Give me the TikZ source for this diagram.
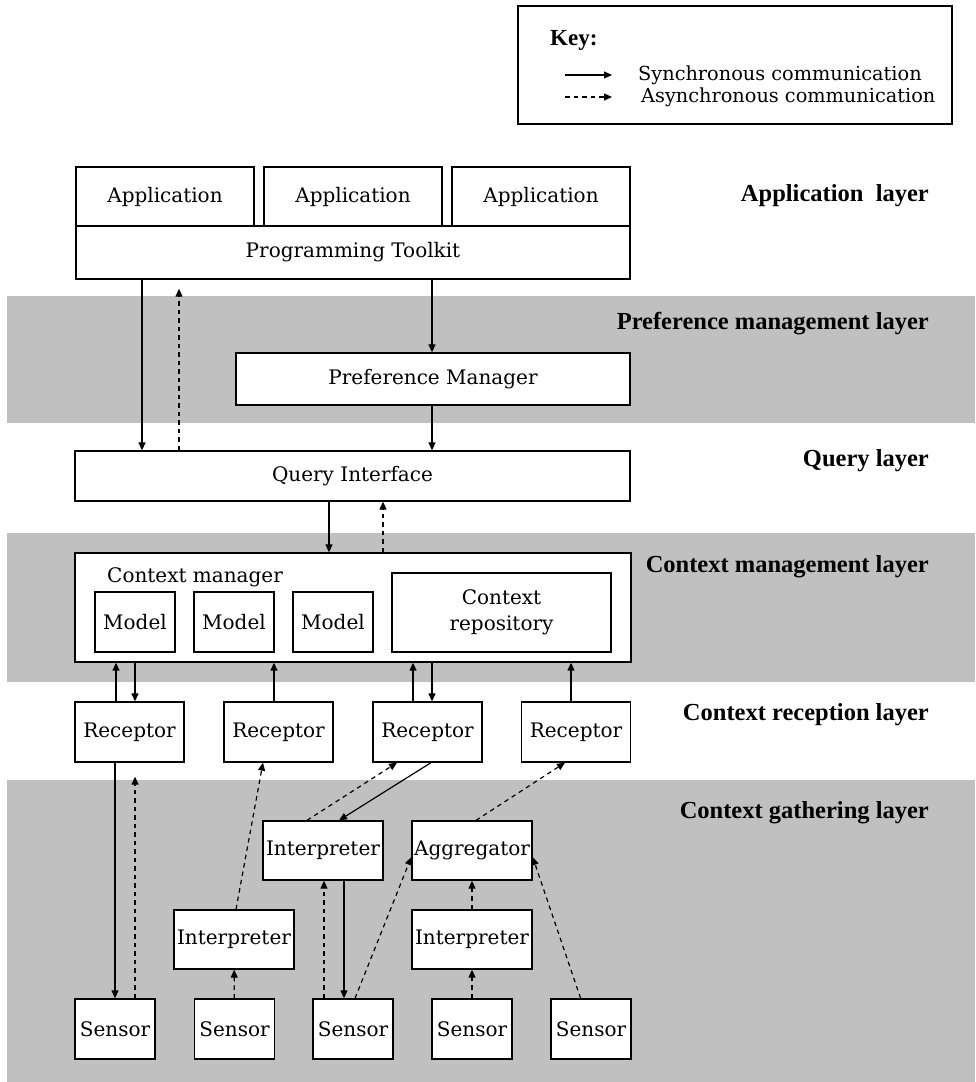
\documentclass[tikz,border=0pt]{standalone}
\usepackage{fontspec}
\setmainfont{DejaVu Serif}
\newfontfamily\layerfont{Liberation Serif}
\usetikzlibrary{arrows.meta}
\definecolor{bandgrey}{RGB}{192,192,192}
\begin{document}
\begin{tikzpicture}[x=1pt, y=-1pt,
    box/.style={draw, line width=1.3pt, fill=white, inner sep=0pt, align=center, font=\fontsize{20}{26}\selectfont},
    sync/.style={line width=1.2pt, -{Triangle[length=8pt,width=7pt]}},
    async/.style={sync, dash pattern=on 4.5pt off 4pt},
    layer/.style={anchor=east, inner sep=0pt, font=\layerfont\bfseries\fontsize{24.5}{28}\selectfont},
    plain/.style={anchor=west, inner sep=0pt, font=\fontsize{20}{26}\selectfont}]
        \useasboundingbox (0,0) rectangle (975,1082);
        % grey bands behind the layers
        \fill[bandgrey] (7,296) rectangle (975,423);
        \fill[bandgrey] (7,533) rectangle (975,682);
        \fill[bandgrey] (7,780) rectangle (975,1082);

        % key
        \draw[line width=1.3pt] (518,6) rectangle (952,124);
        \node[anchor=west, inner sep=0pt, font=\layerfont\bfseries\fontsize{23}{27}\selectfont] (keytitle) at (550,40) {Key:};
        \coordinate (syncA) at (565,75);
        \coordinate (syncB) at (612,75);
        \coordinate (asyncA) at (565,97);
        \coordinate (asyncB) at (612,97);
        \draw[sync] (syncA) -- (syncB);
        \draw[async] (asyncA) -- (asyncB);
        \node[plain, font=\fontsize{19.3}{25}\selectfont] (synctext) at (638,75) {Synchronous communication};
        \node[plain, font=\fontsize{19.3}{25}\selectfont] (asynctext) at (641,97) {Asynchronous communication};

        % boxes
        \foreach \i/\x in {1/165,2/353,3/541}{
          \node[box, minimum width=178pt, minimum height=59pt] (app\i) at (\x,196.5) {Application};
        }
        \node[box, minimum width=554pt, minimum height=53pt] (toolkit) at (353,252.5) {Programming Toolkit};
        \node[box, minimum width=394pt, minimum height=52pt] (prefmgr) at (433,379) {Preference Manager};
        \node[box, minimum width=555pt, minimum height=50pt] (query) at (352.5,476) {Query Interface};
        \node[box, minimum width=556pt, minimum height=109pt] (ctxmgr) at (353,607.5) {};
        \node[plain] (ctxlabel) at (107,577) {Context manager};
        \foreach \i/\x in {1/135,2/234,3/333}{
          \node[box, minimum width=80pt, minimum height=60pt] (model\i) at (\x,622) {Model};
        }
        \node[box, minimum width=219pt, minimum height=79pt] (repo) at (501.5,612.5) {Context\\repository};
        \foreach \i/\x in {1/129.5,2/278.5,3/427.5,4/576}{
          \node[box, minimum width=109pt, minimum height=60pt] (rec\i) at (\x,732) {Receptor};
        }
        \node[box, minimum width=120pt, minimum height=59pt] (interpM) at (323,850.5) {Interpreter};
        \node[box, minimum width=120pt, minimum height=59pt] (aggr) at (472,850.5) {Aggregator};
        \node[box, minimum width=120pt, minimum height=59pt] (interpL) at (234,939.5) {Interpreter};
        \node[box, minimum width=120pt, minimum height=59pt] (interpR) at (472,939.5) {Interpreter};
        \foreach \i/\x in {1/115,2/234.5,3/353,4/472,5/591}{
          \node[box, minimum width=80pt, minimum height=60pt] (sensor\i) at (\x,1029) {Sensor};
        }

        % layer names
        \node[layer] (applayer) at (929,196) {Application~ layer};
        \node[layer] (preflayer) at (929,324) {Preference management layer};
        \node[layer] (querylayer) at (929,461) {Query layer};
        \node[layer] (mgmtlayer) at (929,567) {Context management layer};
        \node[layer] (reclayer) at (929,715) {Context reception layer};
        \node[layer] (gathlayer) at (929,813) {Context gathering layer};

        % top part
        \draw[sync] (toolkit.south -| 142,0) -- (query.north -| 142,0);
        \draw[async, shorten >=9pt] (query.north -| 179,0) -- (toolkit.south -| 179,0);
        \draw[sync] (toolkit.south -| 432,0) -- (prefmgr.north -| 432,0);
        \draw[sync] (prefmgr.south -| 432,0) -- (query.north -| 432,0);
        \draw[sync] (query.south -| 329,0) -- (ctxmgr.north -| 329,0);
        \draw[async] (ctxmgr.north -| 383,0) -- (query.south -| 383,0);

        % receptors and context manager
        \draw[sync] (rec1.north -| 116,0) -- (ctxmgr.south -| 116,0);
        \draw[sync] (ctxmgr.south -| 135,0) -- (rec1.north -| 135,0);
        \draw[sync] (rec2.north -| 274,0) -- (ctxmgr.south -| 274,0);
        \draw[sync] (rec3.north -| 413,0) -- (ctxmgr.south -| 413,0);
        \draw[sync] (ctxmgr.south -| 432,0) -- (rec3.north -| 432,0);
        \draw[sync] (rec4.north -| 571,0) -- (ctxmgr.south -| 571,0);

        % gathering part
        \draw[sync] (rec1.south -| 115,0) -- (sensor1.north -| 115,0);
        \draw[async, shorten >=14pt] (sensor1.north -| 135,0) -- (rec1.south -| 135,0);
        \draw[async] (interpL.north -| 236,0) -- (rec2.south -| 263,0);
        \draw[async] (interpM.north -| 307,0) -- (rec3.south -| 397,0);
        \draw[sync] (rec3.south -| 431,0) -- (interpM.north -| 339,0);
        \draw[async] (aggr.north -| 476,0) -- (rec4.south -| 565,0);
        \draw[async] (sensor2) -- (interpL);
        \draw[async] (sensor3.north -| 324,0) -- (interpM.south -| 324,0);
        \draw[sync] (interpM.south -| 344,0) -- (sensor3.north -| 344,0);
        \draw[async] (sensor3.north -| 355,0) -- (aggr.west |- 0,857);
        \draw[async] (interpR) -- (aggr);
        \draw[async] (sensor4) -- (interpR);
        \draw[async] (sensor5) -- (aggr.east |- 0,857);
\end{tikzpicture}
\end{document}
